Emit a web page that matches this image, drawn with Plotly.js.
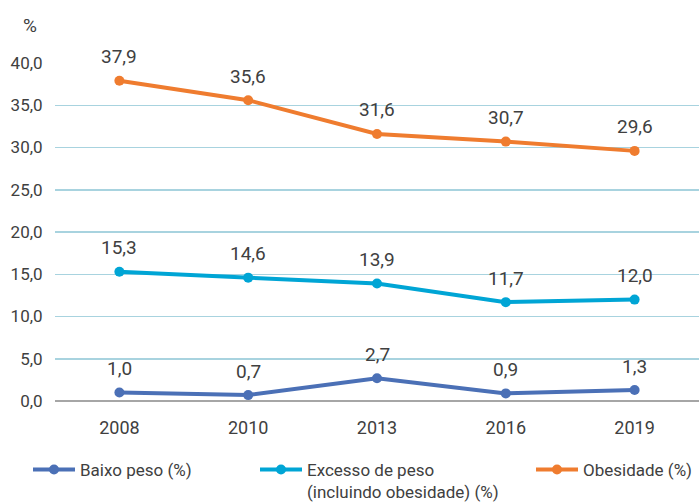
<!DOCTYPE html>
<html>
<head>
<meta charset="utf-8">
<script src="https://cdn.plot.ly/plotly-3.0.1.min.js"></script>
<style>html,body{margin:0;padding:0;background:#fff;}#chart{width:699px;height:502px;}</style>
</head>
<body>
<div id="chart"></div>
<script>
const years = ["2008", "2010", "2013", "2016", "2019"];
const baixoPeso = [1.0, 0.7, 2.7, 0.9, 1.3];
const excessoPeso = [15.3, 14.6, 13.9, 11.7, 12.0];
const obesidade = [37.9, 35.6, 31.6, 30.7, 29.6];
const seriesNames = ["Baixo peso (%)", "Excesso de peso<br>(incluindo obesidade) (%)", "Obesidade (%)"];
const yTicks = [0, 5, 10, 15, 20, 25, 30, 35, 40];

const colors = ["#4b70b6", "#00a5d5", "#ef7c2f"];
const font = "Roboto, 'Liberation Sans', sans-serif";
const fmt = v => v.toFixed(1).replace('.', ',');

function mk(vals, name, color, legend) {
  return {
    x: years, y: vals, name: name, type: 'scatter',
    mode: 'lines+markers',
    line: {color: color, width: 4},
    marker: {color: color, size: 10},
    legend: legend,
    cliponaxis: false
  };
}

const allSeries = [baixoPeso, excessoPeso, obesidade];
const data = [
  mk(baixoPeso, seriesNames[0], colors[0], 'legend'),
  mk(excessoPeso, seriesNames[1], colors[1], 'legend2'),
  mk(obesidade, seriesNames[2], colors[2], 'legend3')
];

const annotations = [];
allSeries.forEach(vals => {
  vals.forEach((v, i) => {
    annotations.push({
      x: years.indexOf(years[i]), y: v, xref: 'x', yref: 'y',
      text: fmt(v), showarrow: false,
      xanchor: 'center', yanchor: 'middle', yshift: 24,
      font: {family: font, size: 19, color: '#404040'}
    });
  });
});
annotations.push({
  xref: 'paper', yref: 'paper', x: 0, y: (401 - 25) / 338,
  xanchor: 'right', xshift: -16, yanchor: 'middle',
  text: '%', showarrow: false,
  font: {family: font, size: 19, color: '#404040'}
});

const legBase = {
  xref: 'container', yref: 'container', yanchor: 'top', xanchor: 'left',
  y: 1 - 452/502, orientation: 'h', valign: 'top',
  font: {family: font, size: 17, color: '#404040'},
  bgcolor: 'rgba(0,0,0,0)', itemwidth: 42
};

const layout = {
  width: 699, height: 502,
  margin: {l: 55, r: 0, t: 63, b: 101},
  paper_bgcolor: '#fff', plot_bgcolor: '#fff',
  showlegend: true,
  font: {family: font, size: 16, color: '#404040'},
  xaxis: {
    type: 'category', range: [-0.5, 4.5],
    showgrid: false, zeroline: false, showline: false,
    ticks: 'outside', ticklen: 10, tickcolor: 'rgba(0,0,0,0)',
    tickfont: {family: font, size: 18, color: '#404040'}
  },
  yaxis: {
    range: [0, 40], tickvals: yTicks, ticktext: yTicks.map(fmt),
    showgrid: true, gridcolor: '#a8d3df', gridwidth: 1.5,
    zeroline: true, zerolinecolor: '#a6a6a6', zerolinewidth: 2,
    showline: false,
    ticks: 'outside', ticklen: 8, tickcolor: 'rgba(0,0,0,0)',
    tickfont: {family: font, size: 17, color: '#404040'}
  },
  legend: Object.assign({}, legBase, {x: 28/699}),
  legend2: Object.assign({}, legBase, {x: 255/699}),
  legend3: Object.assign({}, legBase, {x: 531/699}),
  annotations: annotations
};

Plotly.newPlot('chart', data, layout, {displayModeBar: false, staticPlot: true});
</script>
</body>
</html>
